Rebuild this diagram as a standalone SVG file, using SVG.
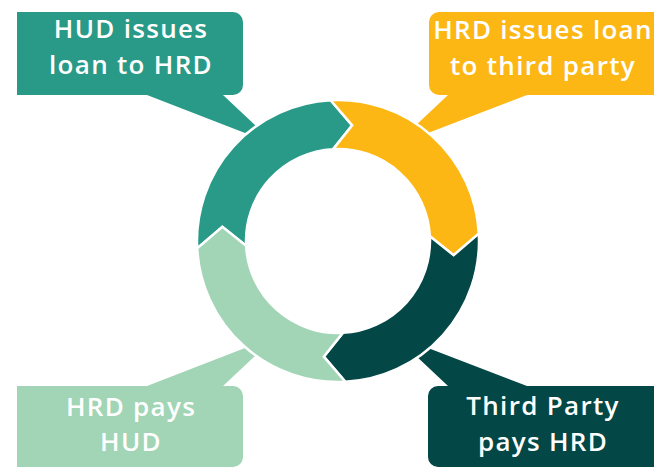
<svg xmlns="http://www.w3.org/2000/svg" width="660" height="468" viewBox="0 0 660 468">
<style>
.lbl{font-family:"Open Sans","Liberation Sans",sans-serif;font-weight:600;font-size:26px;letter-spacing:1.3px;fill:#ffffff;text-anchor:middle}
.seg{stroke:#ffffff;stroke-width:2.5;stroke-linejoin:miter}
.teal{fill:#289A87}
.yellow{fill:#FDB714}
.dark{fill:#034746}
.light{fill:#A1D5B5}
</style>
<rect width="660" height="468" fill="#ffffff"/>
<g id="callout-hud-issues">
<path class="teal" d="M17,12 H233 A10,10 0 0 1 243,22 V85 A10,10 0 0 1 233,95 H223 L258,128 L245,133 L147,95 H17 Z"/>
<text class="lbl" x="131" y="38">HUD issues</text>
<text class="lbl" x="131" y="74">loan to HRD</text>
</g>
<g id="callout-hrd-issues">
<path class="yellow" d="M654,12 H439 A10,10 0 0 0 429,22 V85 A10,10 0 0 0 439,95 H448 L414,127 L428,133 L527,95 H654 Z"/>
<text class="lbl" x="543" y="39">HRD issues loan</text>
<text class="lbl" x="543" y="75">to third party</text>
</g>
<g id="callout-hrd-pays">
<path class="light" d="M17,467 H233 A10,10 0 0 0 243,457 V396 A10,10 0 0 0 233,386 H223 L258,353 L245,348 L147,386 H17 Z"/>
<text class="lbl" x="131" y="416">HRD pays</text>
<text class="lbl" x="131" y="451">HUD</text>
</g>
<g id="callout-third-party">
<path class="dark" d="M654,467 H438 A10,10 0 0 1 428,457 V396 A10,10 0 0 1 438,386 H448 L414,354 L428,348 L527,386 H654 Z"/>
<text class="lbl" x="543" y="415">Third Party</text>
<text class="lbl" x="543" y="451">pays HRD</text>
</g>
<g id="cycle">
<path id="seg-teal" class="seg teal" d="M197.19,248.38 A141,141 0 0 1 330.62,100.19 L352.2,125.37 L333.18,149.13 A92,92 0 0 0 246.13,245.82 L222.37,226.8 Z"/>
<path id="seg-yellow" class="seg yellow" d="M330.62,100.19 A141,141 0 0 1 478.81,233.62 L453.63,255.2 L429.87,236.18 A92,92 0 0 0 333.18,149.13 L352.2,125.37 Z"/>
<path id="seg-dark" class="seg dark" d="M478.81,233.62 A141,141 0 0 1 345.38,381.81 L323.8,356.63 L342.82,332.87 A92,92 0 0 0 429.87,236.18 L453.63,255.2 Z"/>
<path id="seg-light" class="seg light" d="M345.38,381.81 A141,141 0 0 1 197.19,248.38 L222.37,226.8 L246.13,245.82 A92,92 0 0 0 342.82,332.87 L323.8,356.63 Z"/>
</g>
</svg>
